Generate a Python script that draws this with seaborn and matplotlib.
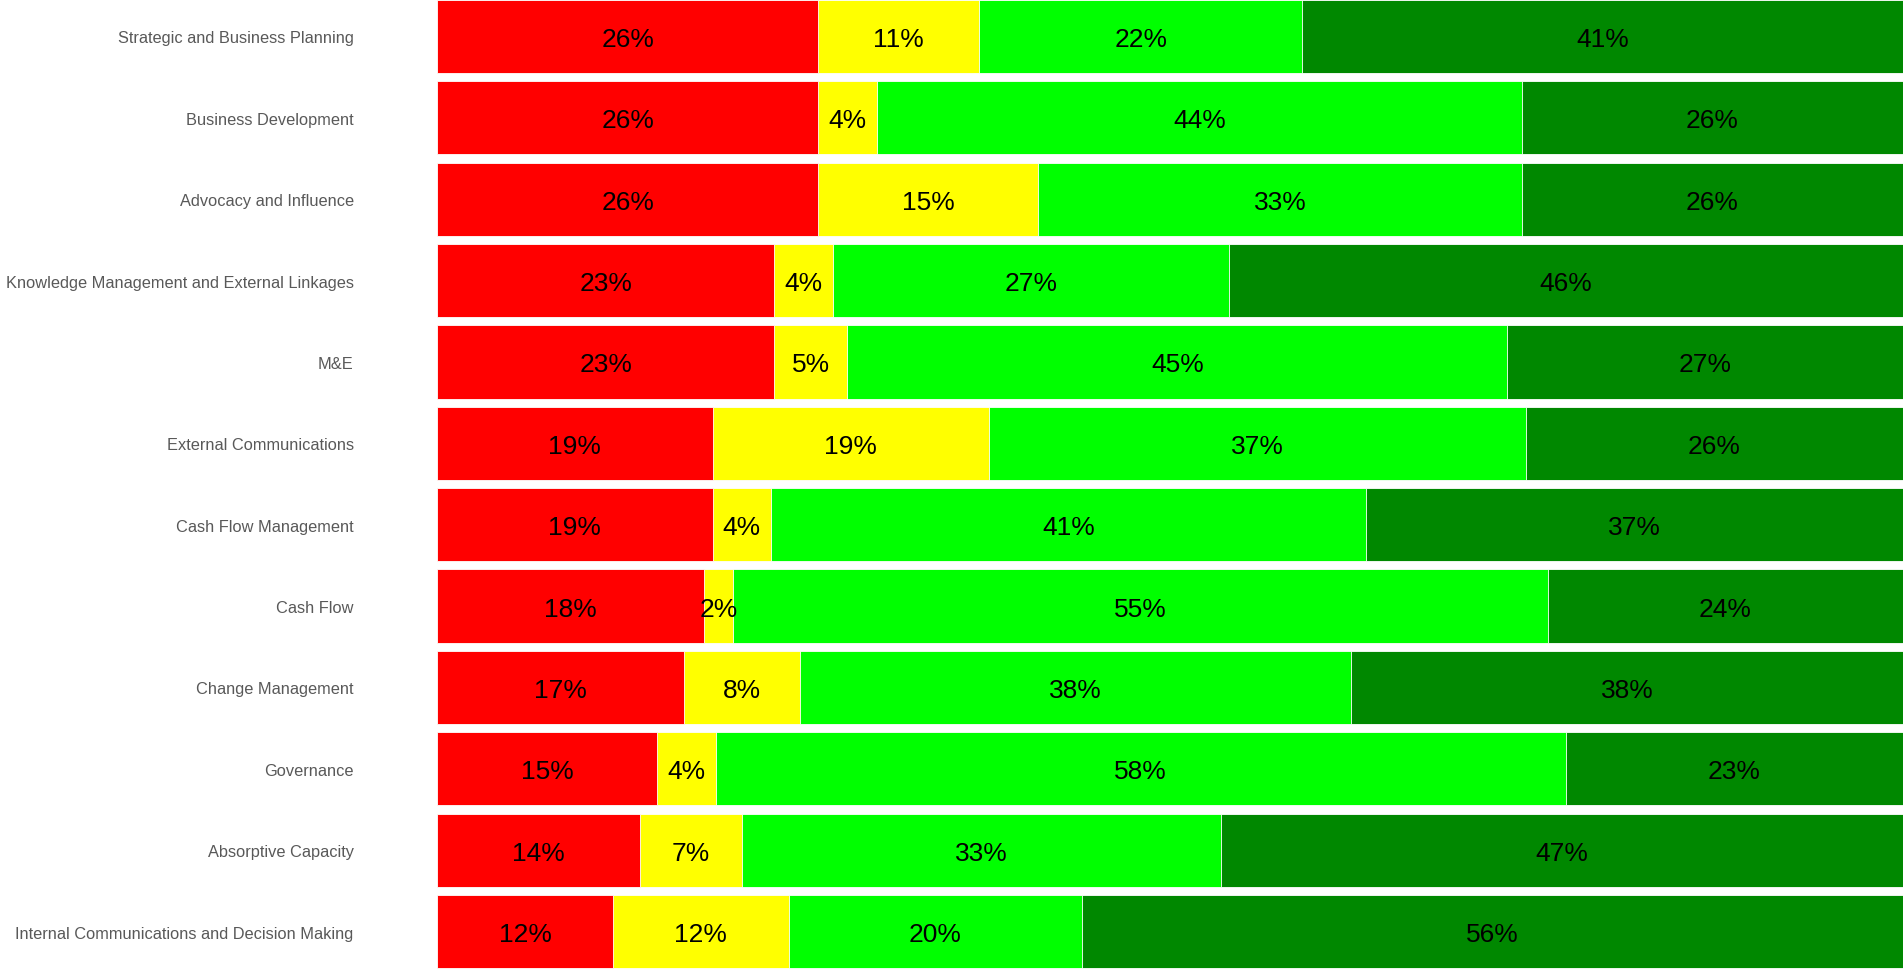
import numpy as np
import pandas as pd
import matplotlib
matplotlib.use("Agg")
import matplotlib.pyplot as plt
import seaborn as sns

categories = [
    "Strategic and Business Planning",
    "Business Development",
    "Advocacy and Influence",
    "Knowledge Management and External Linkages",
    "M&E",
    "External Communications",
    "Cash Flow Management",
    "Cash Flow",
    "Change Management",
    "Governance",
    "Absorptive Capacity",
    "Internal Communications and Decision Making",
]
red_pct = [26, 26, 26, 23, 23, 19, 19, 18, 17, 15, 14, 12]
yellow_pct = [11, 4, 15, 4, 5, 19, 4, 2, 8, 4, 7, 12]
lime_pct = [22, 44, 33, 27, 45, 37, 41, 55, 38, 58, 33, 20]
green_pct = [41, 26, 26, 46, 27, 26, 37, 24, 38, 23, 47, 56]

series = [red_pct, yellow_pct, lime_pct, green_pct]
colors = ["#FF0000", "#FFFF00", "#00FF00", "#008800"]

sns.set_theme(style="white")
plt.rcParams["font.family"] = ["Liberation Sans", "DejaVu Sans"]

vals = np.array(series, dtype=float)          # shape (4, n)
shares = vals / vals.sum(axis=0) * 100.0      # each bar spans the full width
cum = np.cumsum(shares, axis=0)

fig = plt.figure(figsize=(19.03, 9.70), dpi=100)
ax = fig.add_axes([437 / 1903, 0.0, 1 - 437 / 1903, 1.0])

# Stack by drawing cumulative totals from the outermost segment inward
for k in range(3, -1, -1):
    df = pd.DataFrame({"category": categories, "value": cum[k]})
    sns.barplot(data=df, y="category", x="value", orient="h", color=colors[k],
                saturation=1, width=0.9, edgecolor="white", linewidth=0.6,
                ax=ax, order=categories)

for k in range(4):
    left = cum[k] - shares[k]
    for i in range(len(categories)):
        ax.text(left[i] + shares[k][i] / 2, i, f"{series[k][i]}%",
                ha="center", va="center_baseline", fontsize=19, color="black")

ax.set_xlim(0, 100)
ax.set_ylim(len(categories) - 0.54, -0.46)
ax.set_xlabel("")
ax.set_ylabel("")
ax.set_xticks([])
ax.tick_params(axis="y", length=0, pad=60, labelsize=11.8, labelcolor="#595959")
for s in ax.spines.values():
    s.set_visible(False)

fig.savefig("out.png", dpi=100, facecolor="white")
